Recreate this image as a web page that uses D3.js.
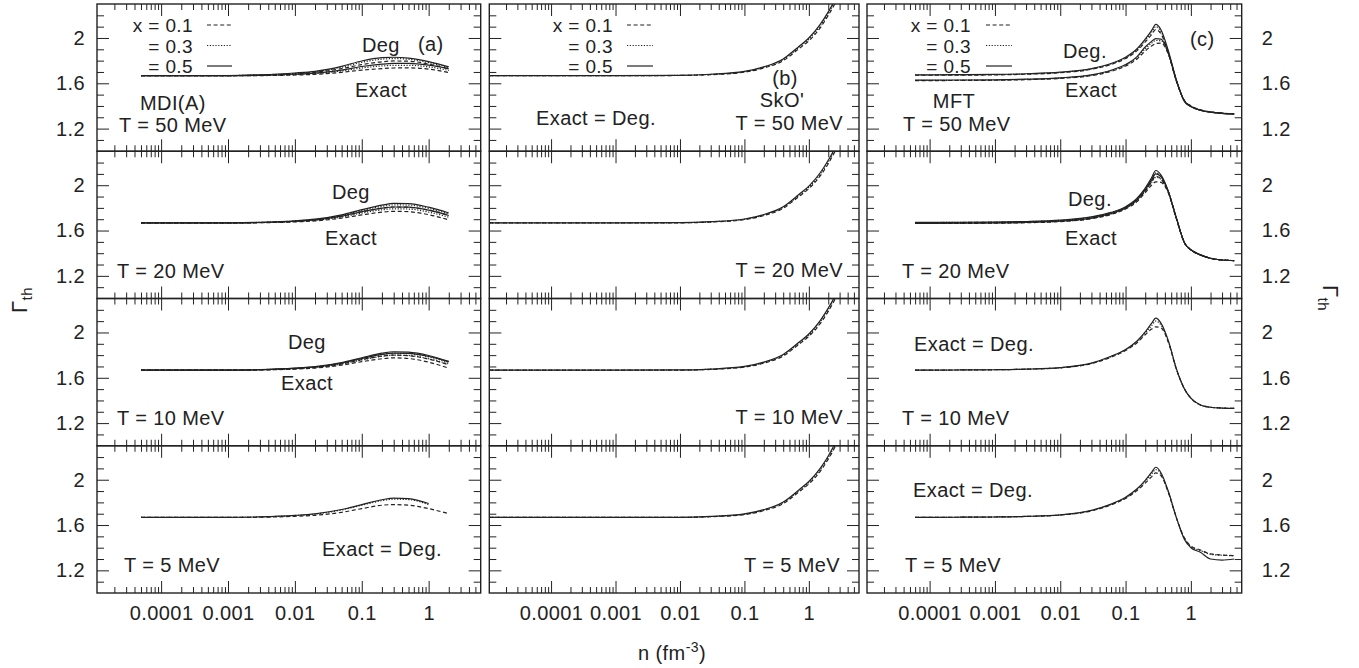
<!DOCTYPE html>
<html>
<head>
<meta charset="utf-8">
<script src="https://cdn.jsdelivr.net/npm/d3@7"></script>
<style>
body { margin: 0; background: #fff; }
text { font-family: "Liberation Sans", Arial, sans-serif; fill: #222; letter-spacing: 0.4px; }
</style>
</head>
<body>
<svg id="chart" width="1359" height="668"></svg>
<script>

// density grids (fm^-3), one per model column
var nA = [5e-5, 1e-4, 3e-4, 1e-3, 3e-3, 0.01, 0.02, 0.05, 0.1, 0.2, 0.3, 0.5, 1, 2];
var nB = [1.1e-5, 1e-4, 1e-3, 0.01, 0.03, 0.1, 0.2, 0.4, 0.7, 1, 1.5, 2, 2.5, 3, 4];
var nC = [6e-5, 1e-4, 3e-4, 1e-3, 3e-3, 0.01, 0.03, 0.06, 0.1, 0.15, 0.2, 0.25, 0.29, 0.35, 0.45, 0.6, 0.8, 1, 1.4, 2, 3, 4.6];

var xValues = ["0.1", "0.3", "0.5"];

// MDI(A) : each set is [x=0.1, x=0.3, x=0.5]
var mdi50Deg = [
  [1.667,1.667,1.667,1.668,1.672,1.683,1.696,1.73,1.765,1.79,1.797,1.795,1.77,1.728],
  [1.667,1.667,1.667,1.668,1.674,1.688,1.702,1.742,1.785,1.813,1.818,1.812,1.783,1.737],
  [1.667,1.667,1.667,1.668,1.675,1.691,1.706,1.75,1.797,1.826,1.83,1.823,1.792,1.745]];
var mdi50Exact = [
  [1.667,1.667,1.667,1.667,1.668,1.673,1.679,1.697,1.716,1.73,1.735,1.736,1.725,1.695],
  [1.667,1.667,1.667,1.667,1.669,1.677,1.686,1.709,1.735,1.753,1.758,1.759,1.745,1.713],
  [1.667,1.667,1.667,1.667,1.67,1.68,1.69,1.717,1.748,1.769,1.775,1.775,1.76,1.728]];
var mdi20Deg = [
  [1.667,1.667,1.667,1.668,1.671,1.681,1.693,1.727,1.765,1.797,1.808,1.806,1.78,1.735],
  [1.667,1.667,1.667,1.668,1.672,1.684,1.697,1.734,1.776,1.813,1.826,1.825,1.796,1.746],
  [1.667,1.667,1.667,1.668,1.673,1.686,1.70,1.739,1.784,1.824,1.84,1.838,1.806,1.755]];
var mdi20Exact = [
  [1.667,1.667,1.667,1.667,1.669,1.676,1.685,1.71,1.738,1.762,1.77,1.766,1.74,1.695],
  [1.667,1.667,1.667,1.667,1.67,1.679,1.69,1.72,1.754,1.783,1.792,1.79,1.763,1.718],
  [1.667,1.667,1.667,1.668,1.671,1.682,1.694,1.727,1.766,1.798,1.808,1.807,1.78,1.733]];
var mdi10Deg = [
  [1.667,1.667,1.667,1.668,1.671,1.68,1.691,1.723,1.76,1.792,1.80,1.795,1.765,1.715],
  [1.667,1.667,1.667,1.668,1.672,1.683,1.695,1.73,1.77,1.806,1.817,1.813,1.785,1.735],
  [1.667,1.667,1.667,1.668,1.672,1.685,1.698,1.735,1.777,1.817,1.83,1.826,1.797,1.745]];
var mdi10Exact = [
  [1.667,1.667,1.667,1.667,1.669,1.677,1.686,1.712,1.742,1.768,1.776,1.77,1.738,1.685],
  [1.667,1.667,1.667,1.667,1.67,1.68,1.691,1.722,1.758,1.79,1.80,1.797,1.768,1.722],
  [1.667,1.667,1.667,1.668,1.671,1.683,1.695,1.73,1.77,1.806,1.818,1.815,1.788,1.74]];
var mdi5 = [
  [1.667,1.667,1.667,1.667,1.669,1.677,1.686,1.712,1.745,1.775,1.78,1.775,1.745,1.70],
  [1.667,1.667,1.667,1.668,1.672,1.684,1.697,1.733,1.775,1.815,1.828,1.825,1.78],
  [1.667,1.667,1.667,1.668,1.672,1.685,1.699,1.737,1.78,1.823,1.838,1.834,1.79]];

// SkO' (Exact = Deg.)
var sko50 = [
  [1.667,1.667,1.667,1.669,1.676,1.698,1.735,1.80,1.905,1.975,2.09,2.20,2.295,2.385,2.54],
  [1.667,1.667,1.667,1.67,1.678,1.702,1.741,1.809,1.917,1.99,2.107,2.217,2.315,2.405,2.56],
  [1.667,1.667,1.667,1.67,1.68,1.705,1.745,1.815,1.925,2.0,2.12,2.23,2.33,2.42,2.58]];
var sko20 = [
  [1.667,1.667,1.667,1.668,1.675,1.696,1.732,1.797,1.90,1.97,2.083,2.19,2.29,2.38,2.53],
  [1.667,1.667,1.667,1.669,1.677,1.699,1.737,1.804,1.91,1.982,2.097,2.206,2.305,2.395,2.55],
  [1.667,1.667,1.667,1.669,1.678,1.702,1.741,1.81,1.918,1.992,2.11,2.22,2.32,2.41,2.57]];
var sko10 = [
  [1.667,1.667,1.667,1.668,1.674,1.694,1.729,1.793,1.895,1.966,2.078,2.186,2.285,2.375,2.53],
  [1.667,1.667,1.667,1.668,1.676,1.697,1.734,1.80,1.905,1.978,2.092,2.2,2.3,2.39,2.545],
  [1.667,1.667,1.667,1.669,1.677,1.70,1.738,1.806,1.913,1.987,2.105,2.215,2.313,2.405,2.565]];
var sko5 = [
  [1.667,1.667,1.667,1.668,1.673,1.692,1.727,1.79,1.892,1.963,2.074,2.182,2.28,2.37,2.525],
  [1.667,1.667,1.667,1.668,1.675,1.695,1.732,1.797,1.902,1.975,2.088,2.196,2.295,2.385,2.54],
  [1.667,1.667,1.667,1.668,1.676,1.698,1.736,1.803,1.91,1.984,2.10,2.21,2.31,2.40,2.56]];

// MFT
var mft50Deg = [
  [1.671,1.671,1.672,1.674,1.68,1.693,1.723,1.766,1.818,1.888,1.965,2.03,2.075,2.035,1.87,1.62,1.445,1.40,1.365,1.347,1.336,1.33],
  [1.673,1.673,1.674,1.676,1.682,1.696,1.727,1.771,1.825,1.898,1.98,2.05,2.10,2.055,1.88,1.625,1.44,1.395,1.362,1.345,1.335,1.33],
  [1.675,1.675,1.676,1.678,1.684,1.698,1.73,1.775,1.83,1.905,1.99,2.065,2.12,2.07,1.89,1.63,1.44,1.395,1.362,1.345,1.335,1.33]];
var mft50Exact = [
  [1.624,1.624,1.625,1.627,1.632,1.643,1.668,1.705,1.752,1.815,1.885,1.93,1.95,1.955,1.86,1.62,1.445,1.40,1.365,1.347,1.336,1.33],
  [1.626,1.626,1.627,1.629,1.634,1.646,1.672,1.711,1.76,1.828,1.905,1.955,1.978,1.975,1.865,1.622,1.44,1.395,1.362,1.345,1.335,1.33],
  [1.628,1.628,1.629,1.631,1.636,1.648,1.675,1.715,1.765,1.835,1.92,1.97,1.995,1.99,1.87,1.625,1.44,1.395,1.362,1.345,1.335,1.33]];
var mft20Deg = [
  [1.67,1.67,1.671,1.673,1.677,1.688,1.714,1.752,1.80,1.868,1.95,2.03,2.08,2.055,1.94,1.705,1.49,1.43,1.385,1.355,1.34,1.335],
  [1.671,1.671,1.672,1.674,1.679,1.69,1.718,1.757,1.806,1.878,1.965,2.05,2.11,2.075,1.945,1.71,1.49,1.43,1.385,1.355,1.34,1.335],
  [1.672,1.672,1.673,1.675,1.68,1.692,1.72,1.76,1.81,1.885,1.975,2.065,2.13,2.09,1.95,1.71,1.49,1.43,1.385,1.355,1.34,1.335]];
var mft20Exact = [
  [1.662,1.662,1.663,1.665,1.669,1.679,1.704,1.742,1.79,1.855,1.935,2.0,2.03,2.025,1.935,1.705,1.49,1.43,1.385,1.355,1.34,1.335],
  [1.663,1.663,1.664,1.666,1.671,1.681,1.707,1.746,1.795,1.865,1.948,2.025,2.07,2.05,1.94,1.708,1.49,1.43,1.385,1.355,1.34,1.335],
  [1.664,1.664,1.665,1.667,1.672,1.683,1.71,1.75,1.80,1.872,1.96,2.045,2.10,2.075,1.945,1.71,1.49,1.43,1.385,1.355,1.34,1.335]];
var mft10 = [
  [1.668,1.668,1.669,1.671,1.676,1.688,1.725,1.782,1.84,1.91,1.98,2.03,2.05,2.04,1.915,1.675,1.50,1.42,1.36,1.34,1.333,1.33],
  [1.668,1.668,1.669,1.671,1.676,1.689,1.728,1.787,1.846,1.918,1.995,2.06,2.10,2.065,1.925,1.68,1.50,1.42,1.36,1.34,1.333,1.33],
  [1.668,1.668,1.669,1.671,1.676,1.69,1.73,1.79,1.85,1.925,2.005,2.08,2.126,2.08,1.93,1.68,1.50,1.42,1.36,1.34,1.333,1.33]];
var mft5 = [
  [1.668,1.668,1.669,1.671,1.676,1.688,1.725,1.778,1.835,1.905,1.97,2.025,2.06,2.035,1.89,1.665,1.485,1.415,1.38,1.345,1.335,1.33],
  [1.668,1.668,1.669,1.671,1.676,1.689,1.728,1.782,1.84,1.913,1.985,2.05,2.09,2.05,1.895,1.665,1.48,1.41,1.375,1.342,1.333,1.33],
  [1.668,1.668,1.669,1.671,1.676,1.69,1.73,1.785,1.845,1.92,1.995,2.065,2.11,2.06,1.90,1.665,1.47,1.40,1.36,1.30,1.29,1.30]];

var temps = ["50", "20", "10", "5"];

// ---------------------------------------------------------------
var svg = d3.select("#chart");
var colX = [[97, 480.7], [489.3, 859], [867, 1241.7]];
var rowTop = 4, rowH = 147.25;
var ink = "#222";
var dashes = ["4,2.6", "1.2,1.6", null];

var panels = [
  {col: 0, row: 0, n: nA, sets: [mdi50Deg, mdi50Exact]},
  {col: 0, row: 1, n: nA, sets: [mdi20Deg, mdi20Exact]},
  {col: 0, row: 2, n: nA, sets: [mdi10Deg, mdi10Exact]},
  {col: 0, row: 3, n: nA, sets: [mdi5]},
  {col: 1, row: 0, n: nB, sets: [sko50]},
  {col: 1, row: 1, n: nB, sets: [sko20]},
  {col: 1, row: 2, n: nB, sets: [sko10]},
  {col: 1, row: 3, n: nB, sets: [sko5]},
  {col: 2, row: 0, n: nC, sets: [mft50Deg, mft50Exact]},
  {col: 2, row: 1, n: nC, sets: [mft20Deg, mft20Exact]},
  {col: 2, row: 2, n: nC, sets: [mft10]},
  {col: 2, row: 3, n: nC, sets: [mft5]}
];

var xMajor = [1e-4, 1e-3, 1e-2, 1e-1, 1];
var xMinor = [];
for (var e = -5; e <= 0; e++) {
  for (var m = 2; m <= 9; m++) {
    var v = m * Math.pow(10, e);
    if (v > 1.1e-5 && v < 5.9) xMinor.push(+v.toPrecision(3));
  }
}
var yMajor = [1.2, 1.6, 2];
var yMinor = [1.1, 1.3, 1.4, 1.5, 1.7, 1.8, 1.9, 2.1, 2.2];

var line = d3.line().curve(d3.curveMonotoneX);

panels.forEach(function(p, pi) {
  var x0 = colX[p.col][0], x1 = colX[p.col][1];
  var yt = rowTop + p.row * rowH, yb = yt + rowH;
  var x = d3.scaleLog().domain([1.1e-5, 6]).range([x0, x1]);
  var y = d3.scaleLinear().domain([1.0, 2.3]).range([yb, yt]);

  var g = svg.append("g");
  g.append("clipPath").attr("id", "clip" + pi)
    .append("rect").attr("x", x0).attr("y", yt).attr("width", x1 - x0).attr("height", yb - yt);

  var curves = g.append("g").attr("clip-path", "url(#clip" + pi + ")");
  p.sets.forEach(function(set) {
    set.forEach(function(vals, i) {
      var pts = vals.map(function(gv, k) { return [x(p.n[k]), y(gv)]; });
      curves.append("path")
        .attr("d", line(pts))
        .attr("fill", "none")
        .attr("stroke", ink)
        .attr("stroke-width", 1.2)
        .attr("stroke-dasharray", dashes[i]);
    });
  });

  function axisStyle(sel) {
    sel.select(".domain").remove();
    sel.selectAll(".tick line").attr("stroke", ink).attr("stroke-width", 1);
    sel.selectAll(".tick text").attr("fill", ink).style("font-size", "20px")
      .style("font-family", "Liberation Sans, Arial, sans-serif");
  }
  var lab = function(d) { return String(d); };

  g.append("g").attr("transform", "translate(0," + yb + ")")
    .call(d3.axisBottom(x).tickValues(xMajor).tickSizeInner(-12).tickSizeOuter(0).tickPadding(13)
      .tickFormat(p.row === 3 ? lab : ""))
    .call(axisStyle);
  g.append("g").attr("transform", "translate(0," + yb + ")")
    .call(d3.axisBottom(x).tickValues(xMinor).tickSizeInner(-6).tickSizeOuter(0).tickFormat(""))
    .call(axisStyle);
  g.append("g").attr("transform", "translate(0," + yt + ")")
    .call(d3.axisTop(x).tickValues(xMajor).tickSizeInner(-12).tickSizeOuter(0).tickFormat(""))
    .call(axisStyle);
  g.append("g").attr("transform", "translate(0," + yt + ")")
    .call(d3.axisTop(x).tickValues(xMinor).tickSizeInner(-6).tickSizeOuter(0).tickFormat(""))
    .call(axisStyle);

  g.append("g").attr("transform", "translate(" + x0 + ",0)")
    .call(d3.axisLeft(y).tickValues(yMajor).tickSizeInner(-12).tickSizeOuter(0).tickPadding(12)
      .tickFormat(p.col === 0 ? lab : ""))
    .call(axisStyle);
  g.append("g").attr("transform", "translate(" + x0 + ",0)")
    .call(d3.axisLeft(y).tickValues(yMinor).tickSizeInner(-7).tickSizeOuter(0).tickFormat(""))
    .call(axisStyle);
  g.append("g").attr("transform", "translate(" + x1 + ",0)")
    .call(d3.axisRight(y).tickValues(yMajor).tickSizeInner(-12).tickSizeOuter(0).tickPadding(20)
      .tickFormat(p.col === 2 ? lab : ""))
    .call(axisStyle);
  g.append("g").attr("transform", "translate(" + x1 + ",0)")
    .call(d3.axisRight(y).tickValues(yMinor).tickSizeInner(-7).tickSizeOuter(0).tickFormat(""))
    .call(axisStyle);

  g.append("rect").attr("x", x0).attr("y", yt).attr("width", x1 - x0).attr("height", yb - yt)
    .attr("fill", "none").attr("stroke", ink).attr("stroke-width", 1.4);
});

// legends in top row
var legendPos = [[193, 207, 232], [613, 627, 653], [971, 986, 1012]];
var legendY = [25, 45.5, 66];
legendPos.forEach(function(lp) {
  xValues.forEach(function(xv, i) {
    svg.append("text").attr("x", lp[0]).attr("y", legendY[i] + 7).attr("text-anchor", "end")
      .style("font-size", "19px").text((i === 0 ? "x = " : "= ") + xv);
    svg.append("line").attr("x1", lp[1]).attr("x2", lp[2]).attr("y1", legendY[i]).attr("y2", legendY[i])
      .attr("stroke", ink).attr("stroke-width", 1.2).attr("stroke-dasharray", dashes[i]);
  });
});

// panel annotations
var notes = [
  ["(a)", 418, 51, "start"], ["Deg", 362, 52, "start"], ["Exact", 355, 97, "start"],
  ["MDI(A)", 140, 110, "start"], ["T = " + temps[0] + " MeV", 119, 132, "start"],
  ["Deg", 332, 199, "start"], ["Exact", 325, 245, "start"], ["T = " + temps[1] + " MeV", 117, 278, "start"],
  ["Deg", 288, 349, "start"], ["Exact", 281, 390, "start"], ["T = " + temps[2] + " MeV", 117, 425, "start"],
  ["Exact = Deg.", 322, 556, "start"], ["T = " + temps[3] + " MeV", 124, 572, "start"],
  ["Exact = Deg.", 536, 125, "start"], ["(b)", 785, 85, "middle"], ["SkO'", 782, 107, "middle"],
  ["T = " + temps[0] + " MeV", 843, 130, "end"], ["T = " + temps[1] + " MeV", 843, 277, "end"],
  ["T = " + temps[2] + " MeV", 843, 424, "end"], ["T = " + temps[3] + " MeV", 840, 572, "end"],
  ["(c)", 1190, 46, "start"], ["Deg.", 1063, 58, "start"], ["Exact", 1065, 97, "start"],
  ["MFT", 954, 108, "middle"], ["T = " + temps[0] + " MeV", 903, 131, "start"],
  ["Deg.", 1068, 206, "start"], ["Exact", 1065, 245, "start"], ["T = " + temps[1] + " MeV", 902, 278, "start"],
  ["Exact = Deg.", 914, 351, "start"], ["T = " + temps[2] + " MeV", 902, 425, "start"],
  ["Exact = Deg.", 913, 497, "start"], ["T = " + temps[3] + " MeV", 905, 572, "start"]
];
notes.forEach(function(t) {
  svg.append("text").attr("x", t[1]).attr("y", t[2]).attr("text-anchor", t[3])
    .style("font-size", "20px").text(t[0]);
});

// axis titles
var xt = svg.append("text").attr("x", 672).attr("y", 660).attr("text-anchor", "middle").style("font-size", "20px");
xt.append("tspan").text("n (fm");
xt.append("tspan").attr("dy", -8).style("font-size", "14px").text("-3");
xt.append("tspan").attr("dy", 8).text(")");

var yl = svg.append("text").attr("transform", "translate(27,300) rotate(-90)").attr("text-anchor", "middle");
yl.append("tspan").style("font-size", "22px").text("Γ");
yl.append("tspan").attr("dy", 5).style("font-size", "15px").text("th");

var yr = svg.append("text").attr("transform", "translate(1323,298) rotate(90)").attr("text-anchor", "middle");
yr.append("tspan").style("font-size", "22px").text("Γ");
yr.append("tspan").attr("dy", 5).style("font-size", "15px").text("th");

</script>
</body>
</html>
